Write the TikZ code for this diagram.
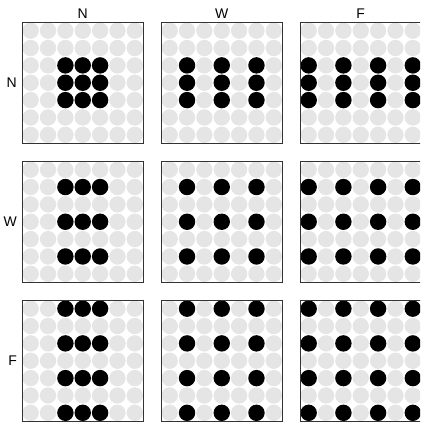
\documentclass[tikz,border=0pt]{standalone}
\usepackage{fontspec}
\setmainfont{Liberation Sans}
\usetikzlibrary{positioning}

\definecolor{holegray}{HTML}{E5E5E5}
\definecolor{framegray}{HTML}{333333}

\begin{document}
\begin{tikzpicture}[
    x=1pt, y=-1pt,
    panel/.style={rectangle, draw=framegray, line width=0.9pt, minimum size=121.5pt, inner sep=0pt},
    hole/.style={fill=holegray},
    dot/.style={fill=black},
    lab/.style={font=\fontsize{14}{16}\selectfont, inner sep=0pt},
]
\useasboundingbox (0,0) rectangle (420,422);
\clip (0,0) rectangle (420,422);

% panels: rows and columns N / W / F
\foreach \r/\rn/\rows in {0/N/{2,3,4}, 1/W/{1,3,5}, 2/F/{0,2,4,6}} {
  \foreach \c/\cn/\cols in {0/N/{2,3,4}, 1/W/{1,3,5}, 2/F/{0,2,4,6}} {
    % background grid
    \foreach \i in {0,...,6}
      \foreach \j in {0,...,6}
        \fill[hole] ({22+139*\c+17.357*(\j+0.5)}, {22+139*\r+17.357*(\i+0.5)}) circle (8.2);
    % filled dots
    \foreach \i in \rows
      \foreach \j in \cols
        \fill[dot] ({22+139*\c+17.357*(\j+0.5)}, {22+139*\r+17.357*(\i+0.5)}) circle (8.2);
    \node[panel] (p\rn\cn) at ({82.75+139*\c}, {82.75+139*\r}) {};
  }
}

% column labels
\foreach \cn in {N, W, F}
  \node[lab, above=3pt of pN\cn] (col\cn) {\cn};

% row labels
\foreach \rn in {N, W, F}
  \node[lab, left=4.5pt of p\rn N] (row\rn) {\rn};

\end{tikzpicture}
\end{document}
